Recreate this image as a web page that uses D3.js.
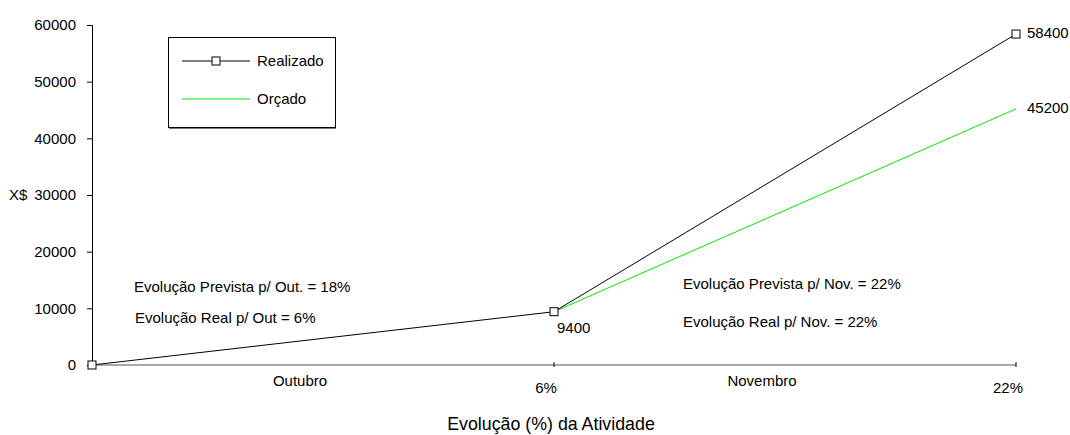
<!DOCTYPE html>
<html lang="pt">
<head>
  <meta charset="UTF-8">
  <title>Evolução (%) da Atividade</title>
  <style>
    body { margin: 0; background: #fff; }
    text { font-family: "Liberation Sans", Arial, sans-serif; fill: #000; }
  </style>
</head>
<body>
  <script src="https://cdnjs.cloudflare.com/ajax/libs/d3/7.8.5/d3.min.js"></script>
  <script>
  // dados
  var pontos = ['0', '6%', '22%'];
  var meses = ['Outubro', 'Novembro'];
  var realizado = [0, 9400, 58400];
  var orcado = [null, 9400, 45200];
  var yTicks = [0, 10000, 20000, 30000, 40000, 50000, 60000];
  var notas = [
    { txt: 'Evolução Prevista p/ Out. = 18%', x: 134, y: 292 },
    { txt: 'Evolução Real p/ Out = 6%', x: 135, y: 323 },
    { txt: 'Evolução Prevista p/ Nov. = 22%', x: 683, y: 289 },
    { txt: 'Evolução Real p/ Nov. = 22%', x: 683, y: 327 }
  ];

  var w = 1070, h = 435;
  var fs = '15px';
  var svg = d3.select('body').append('svg').attr('width', w).attr('height', h);

  var x = d3.scalePoint().domain(d3.range(pontos.length)).range([92, 1016]);
  var y = d3.scaleLinear().domain([0, 60000]).range([365, 25]);

  // eixo y
  var ay = svg.append('g').attr('transform', 'translate(92,0)')
    .call(d3.axisLeft(y).tickValues(yTicks).tickSize(5).tickPadding(11).tickFormat(d3.format('d')));
  ay.select('.domain').attr('stroke', '#000');
  ay.selectAll('text').style('font-size', fs).style('font-family', '"Liberation Sans", Arial, sans-serif');

  svg.append('text').attr('x', 9).attr('y', 200).style('font-size', fs).text('X$');

  // eixo x
  svg.append('line').attr('x1', 92).attr('x2', 1016).attr('y1', y(0)).attr('y2', y(0))
    .attr('stroke', '#555').attr('stroke-width', 1.2);
  svg.selectAll('.xt').data([1, 2]).enter().append('line')
    .attr('x1', function (d) { return x(d); }).attr('x2', function (d) { return x(d); })
    .attr('y1', y(0) - 3).attr('y2', y(0) + 2).attr('stroke', '#000');

  svg.selectAll('.pct').data([1, 2]).enter().append('text')
    .attr('x', function (d) { return x(d) - 8; }).attr('y', 393)
    .attr('text-anchor', 'middle').style('font-size', fs)
    .text(function (d) { return pontos[d]; });

  svg.selectAll('.mes').data(meses).enter().append('text')
    .attr('x', function (d, i) { return (x(i) + x(i + 1)) / 2 - 23; }).attr('y', 386)
    .attr('text-anchor', 'middle').style('font-size', fs)
    .text(function (d) { return d; });

  svg.append('text').attr('x', 551).attr('y', 430).attr('text-anchor', 'middle')
    .style('font-size', '17.8px').text('Evolução (%) da Atividade');

  // linhas
  var linha = d3.line()
    .defined(function (d) { return d != null; })
    .x(function (d, i) { return x(i); })
    .y(function (d) { return y(d); });

  svg.append('path').datum(orcado).attr('d', linha)
    .attr('fill', 'none').attr('stroke', '#00e600').attr('stroke-width', 1);
  svg.append('path').datum(realizado).attr('d', linha)
    .attr('fill', 'none').attr('stroke', '#000').attr('stroke-width', 1);

  svg.selectAll('.mk').data(realizado).enter().append('rect')
    .attr('x', function (d, i) { return x(i) - 4; })
    .attr('y', function (d) { return y(d) - 4; })
    .attr('width', 8).attr('height', 8)
    .attr('fill', '#fff').attr('stroke', '#000');

  // rótulos de dados
  svg.append('text').attr('x', 557).attr('y', 333).style('font-size', fs).text(realizado[1]);
  svg.append('text').attr('x', 1027).attr('y', 38).style('font-size', fs).text(realizado[2]);
  svg.append('text').attr('x', 1027).attr('y', 113).style('font-size', fs).text(orcado[2]);

  // anotações
  svg.selectAll('.nota').data(notas).enter().append('text')
    .attr('x', function (d) { return d.x; }).attr('y', function (d) { return d.y; })
    .style('font-size', fs).text(function (d) { return d.txt; });

  // legenda
  var lg = svg.append('g');
  lg.append('rect').attr('x', 168.5).attr('y', 37.5).attr('width', 167).attr('height', 90)
    .attr('fill', '#fff').attr('stroke', '#000');
  lg.append('line').attr('x1', 169).attr('x2', 336).attr('y1', 128.5).attr('y2', 128.5)
    .attr('stroke', '#777');
  lg.append('line').attr('x1', 182).attr('x2', 250).attr('y1', 61).attr('y2', 61).attr('stroke', '#000');
  lg.append('rect').attr('x', 212).attr('y', 57).attr('width', 8).attr('height', 8)
    .attr('fill', '#fff').attr('stroke', '#000');
  lg.append('text').attr('x', 257).attr('y', 66).style('font-size', fs).text('Realizado');
  lg.append('line').attr('x1', 182).attr('x2', 250).attr('y1', 99).attr('y2', 99).attr('stroke', '#00e600');
  lg.append('text').attr('x', 257).attr('y', 104).style('font-size', fs).text('Orçado');
  </script>
</body>
</html>
